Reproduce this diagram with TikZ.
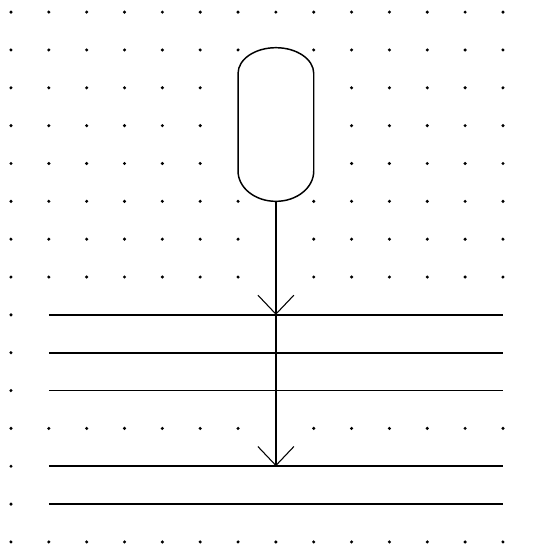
\documentclass[tikz,border=0pt]{standalone}
\usetikzlibrary{arrows.meta}

\begin{document}
\begin{tikzpicture}[
    x=1cm, y=-1cm,
    rail/.style={line width=1.3pt},
    outline/.style={line width=1.1pt, fill=white},
    flow/.style={line width=1.1pt, -{Straight Barb[length=5mm, width=9.5mm, line width=0.8pt]}}
]
  \useasboundingbox (-0.29,-0.32) rectangle (13.92,14.16);

  % --- DOT GRID (dots under lines and oval left out) ---
  \foreach \i in {0,...,13}
    \foreach \j in {0,...,14} {
      \pgfmathtruncatemacro\hide{((\j==8)||(\j==9)||(\j==10)||(\j==12)||(\j==13))&&(\i>0)}
      \pgfmathtruncatemacro\hidev{((\i==7)&&(\j>0)&&(\j<13))||(((\i==6)||(\i==8))&&(\j>1)&&(\j<5))}
      \ifnum\hide=0 \ifnum\hidev=0
        \fill (\i,\j) circle (0.045);
      \fi\fi
    }

  % --- OVAL ---
  \draw[outline] (6,1.62) -- (6,4.2)
    arc[start angle=180, end angle=0, x radius=1, y radius=0.8]
    -- (8,1.62)
    arc[start angle=0, end angle=-180, x radius=1, y radius=0.68] -- cycle;
  \coordinate (ovalb) at (7,5);

  % --- LINES ---
  \foreach \r in {8,9,10,12,13}
    \draw[rail] (1,\r) -- (13,\r);
  \coordinate (hit1) at (7,8);
  \coordinate (hit2) at (7,12);

  % --- ARROWS ---
  \draw[flow] (ovalb) -- (hit1);
  \draw[flow] (hit1) -- (hit2);

\end{tikzpicture}
\end{document}
